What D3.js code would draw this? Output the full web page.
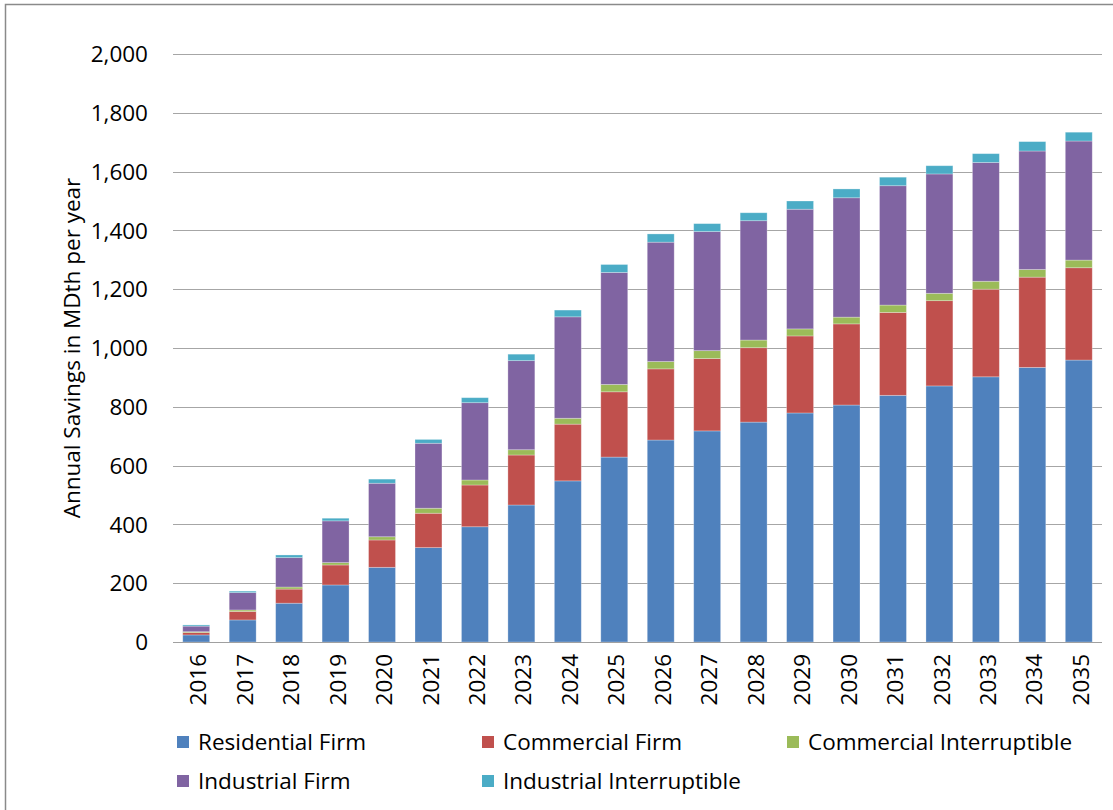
<!DOCTYPE html>
<html>
<head>
<meta charset="utf-8">
<script src="https://cdn.jsdelivr.net/npm/d3@7"></script>
<style>
  html, body { margin: 0; padding: 0; background: #fff; }
  svg { display: block; font-family: "Open Sans", Lato, "Liberation Sans", sans-serif; }
</style>
</head>
<body>
<svg id="chart" width="1113" height="810"></svg>
<script>
// Annual gas savings by customer class, MDth per year
const years = ["2016","2017","2018","2019","2020","2021","2022","2023","2024","2025",
               "2026","2027","2028","2029","2030","2031","2032","2033","2034","2035"];
const residentialFirm        = [24, 75, 132, 194, 254, 321, 392, 466, 548, 629, 687, 718, 748, 779, 806, 839, 871, 902, 934, 959];
const commercialFirm         = [8, 29, 48, 68, 93, 117, 142, 170, 193, 222, 242, 246, 253, 262, 276, 282, 290, 298, 307, 314];
const commercialInterruptible= [3, 5, 7, 8, 11, 17, 17, 18, 20, 25, 25, 27, 26, 24, 23, 25, 25, 27, 26, 26];
const industrialFirm         = [19, 59, 100, 142, 182, 221, 263, 303, 345, 381, 406, 405, 406, 407, 406, 406, 406, 404, 403, 405];
const industrialInterruptible= [4, 5, 9, 9, 14, 13, 17, 22, 23, 27, 28, 27, 27, 28, 30, 29, 28, 30, 32, 30];
const seriesNames = ["Residential Firm", "Commercial Firm", "Commercial Interruptible", "Industrial Firm", "Industrial Interruptible"];
const seriesValues = [residentialFirm, commercialFirm, commercialInterruptible, industrialFirm, industrialInterruptible];
const seriesColors = ["#4F81BD", "#C0504D", "#9BBB59", "#8064A2", "#4BACC6"];
const yTicks = [0, 200, 400, 600, 800, 1000, 1200, 1400, 1600, 1800, 2000];
const yTitle = "Annual Savings in MDth per year";

const svg = d3.select("#chart");
const plot = { left: 173, right: 1102, top: 54, bottom: 642 };
const fontSize = 22.5;

// outer chart frame
svg.append("rect")
  .attr("x", 5.5).attr("y", 4.5)
  .attr("width", 1130).attr("height", 830)
  .attr("fill", "#fff").attr("stroke", "#8a8a8a").attr("stroke-width", 1.5);

const rows = years.map((y, i) => {
  const r = { year: y };
  seriesNames.forEach((n, k) => { r[n] = seriesValues[k][i]; });
  return r;
});
const stacked = d3.stack().keys(seriesNames)(rows);

const x = d3.scaleBand().domain(years).range([plot.left, plot.right]).paddingInner(0.42).paddingOuter(0.21);
const y = d3.scaleLinear().domain([0, 2000]).range([plot.bottom, plot.top]);

// gridlines
svg.append("g")
  .selectAll("line").data(yTicks.filter(d => d > 0)).join("line")
  .attr("x1", plot.left).attr("x2", plot.right)
  .attr("y1", d => Math.round(y(d)) + 0.5).attr("y2", d => Math.round(y(d)) + 0.5)
  .attr("stroke", "#a6a6a6").attr("stroke-width", 1.2);

// y tick labels
svg.append("g")
  .selectAll("text").data(yTicks).join("text")
  .attr("x", 148).attr("y", d => y(d))
  .attr("dy", "0.36em")
  .attr("text-anchor", "end")
  .attr("font-size", fontSize).attr("fill", "#000")
  .text(d3.format(","));

// stacked bars
svg.append("g")
  .selectAll("g").data(stacked).join("g")
  .attr("fill", (d, i) => seriesColors[i])
  .selectAll("rect").data(d => d).join("rect")
  .attr("x", d => x(d.data.year))
  .attr("width", x.bandwidth())
  .attr("y", d => y(d[1]))
  .attr("height", d => Math.max(0, y(d[0]) - y(d[1])))
  .attr("stroke", "rgba(255,255,255,0.35)").attr("stroke-width", 0.8);

// x axis baseline
svg.append("line")
  .attr("x1", plot.left).attr("x2", plot.right)
  .attr("y1", plot.bottom + 0.5).attr("y2", plot.bottom + 0.5)
  .attr("stroke", "#a0a0a0").attr("stroke-width", 1.2);

// x tick labels (rotated)
svg.append("g")
  .selectAll("text").data(years).join("text")
  .attr("transform", d => `translate(${x(d) + x.bandwidth() / 2 + 2},${plot.bottom + 12}) rotate(-90)`)
  .attr("dy", "0.36em")
  .attr("text-anchor", "end")
  .attr("font-size", fontSize).attr("fill", "#000")
  .text(d => d);

// y axis title
svg.append("text")
  .attr("transform", `translate(72,${(plot.top + plot.bottom) / 2}) rotate(-90)`)
  .attr("dy", "0.36em")
  .attr("text-anchor", "middle")
  .attr("font-size", fontSize).attr("fill", "#000")
  .text(yTitle);

// legend
const legendPos = [[177, 742], [482, 742], [787, 742], [177, 781], [482, 781]];
const legend = svg.append("g")
  .selectAll("g").data(seriesNames).join("g")
  .attr("transform", (d, i) => `translate(${legendPos[i][0]},${legendPos[i][1]})`);
legend.append("rect")
  .attr("x", 0).attr("y", -6).attr("width", 12).attr("height", 12)
  .attr("fill", (d, i) => seriesColors[i]);
legend.append("text")
  .attr("x", 21).attr("dy", "0.36em")
  .attr("font-size", fontSize).attr("fill", "#000")
  .text(d => d);
</script>
</body>
</html>
